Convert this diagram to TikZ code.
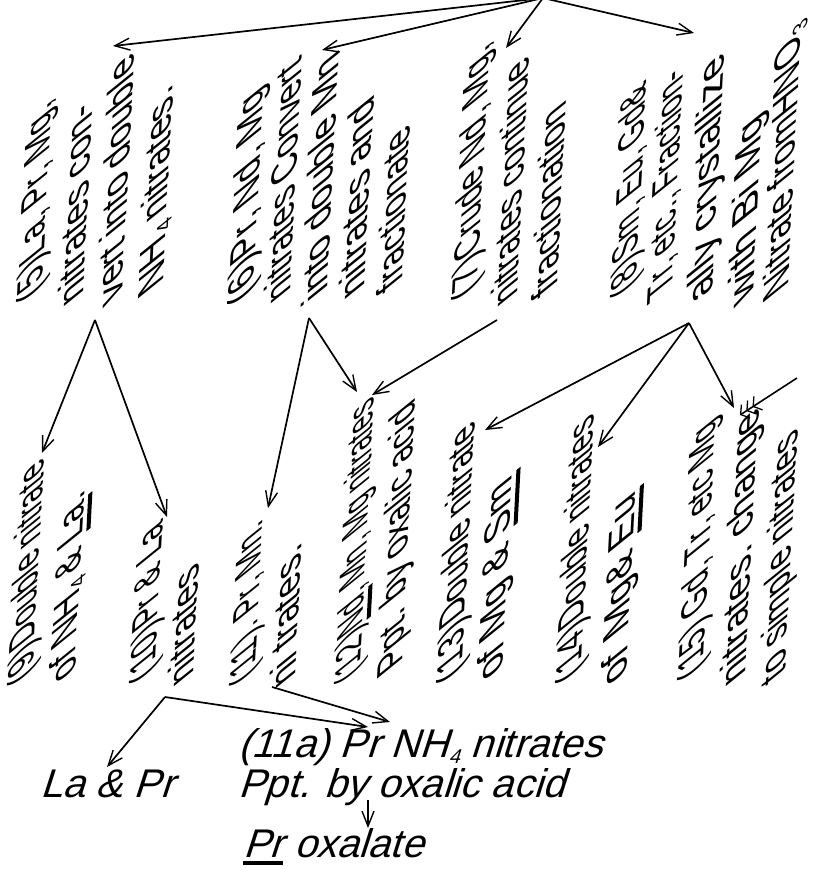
\documentclass[tikz,border=0pt]{standalone}
\usepackage{fontspec}
\usepackage{graphicx}
\setmainfont{Liberation Sans}
\newfontfamily\rotfont{Liberation Sans}
\newfontfamily\horfont{Liberation Sans}[FakeSlant=0.32]
\usetikzlibrary{arrows.meta}
\newcommand\lowsub[1]{\raisebox{-0.3ex}{\fontsize{20}{20}\selectfont #1}}
\newcommand\thickul[1]{\leavevmode\setbox0=\hbox{#1}\rlap{\rule[-8pt]{\wd0}{4pt}}\box0\relax}
\newcommand\sx[2]{\scalebox{#1}[1]{#2}}
\begin{document}
\begin{tikzpicture}[x=1pt,y=-1pt,
  ln/.style={rotate=87, xslant=-0.9, anchor=base west, inner sep=0pt,
    font=\rotfont\fontsize{35}{40}\selectfont},
  hor/.style={anchor=base west, inner sep=0pt, align=left,
    font=\horfont\fontsize{40}{40}\selectfont},
  arr/.style={line width=1.7pt, -{Straight Barb[length=15pt,width=12pt,line width=1.4pt]}},
  feather/.style={line width=1.6pt, -{Straight Barb[length=6pt,width=16pt,line width=1.3pt]Straight Barb[length=6pt,width=16pt,line width=1.3pt]Straight Barb[length=6pt,width=16pt,line width=1.3pt]}}]
\useasboundingbox (0,0) rectangle (812,870);

% block 5
\node[ln] (n5a) at (42,289)  {\sx{0.90}{(5)La, Pr, Mg,}};
\node[ln] (n5b) at (83,294)  {\sx{1.02}{nitrates con-}};
\node[ln] (n5c) at (122,294) {\sx{1.02}{vert into double}};
\node[ln] (n5d) at (163,282) {\sx{1.02}{NH\lowsub{4} nitrates.}};
% block 6
\node[ln] (n6a) at (253,292) {\sx{1.00}{(6)Pr, Nd, Mg}};
\node[ln] (n6b) at (290,291) {\sx{0.96}{nitrates Convert}};
\node[ln] (n6c) at (327,289) {\sx{1.05}{into double Mn}};
\node[ln] (n6d) at (364,287) {\sx{1.06}{nitrates and}};
\node[ln] (n6e) at (402,280) {\sx{0.97}{fractionate}};
% block 7
\node[ln] (n7a) at (477,287) {\sx{0.91}{(7)Crude Nd, Mg,}};
\node[ln] (n7b) at (517,294) {\sx{0.94}{nitrates continue}};
\node[ln] (n7c) at (557,285) {\sx{0.98}{fractionation}};
% block 8
\node[ln] (n8a) at (636,284) {\sx{0.83}{(8)Sm, Eu, Gd\&}};
\node[ln] (n8b) at (672,287) {\sx{0.85}{Tr, etc., Fraction-}};
\node[ln] (n8c) at (712,291) {\sx{1.12}{ally crystallize}};
\node[ln] (n8d) at (753,294) {\sx{1.14}{with Bi Mg}};
\node[ln] (n8e) at (788,286) {\sx{0.98}{Nitrate fromHNO\lowsub{3}}};
% block 9
\node[ln] (n9a) at (33,672)  {\sx{0.83}{(9)Double nitrate}};
\node[ln] (n9b) at (75,671)  {\sx{0.95}{of NH\lowsub{4} \& \thickul{La}.}};
% block 10
\node[ln] (n10a) at (155,670) {\sx{0.85}{(10)Pr \& La}};
\node[ln] (n10b) at (193,674) {\sx{0.99}{nitrates}};
% block 11
\node[ln] (n11a) at (255,672) {\sx{0.80}{(11). Pr, Mn.}};
\node[ln] (n11b) at (295,676) {\sx{1.01}{ni trates.}};
% block 12
\node[ln] (n12a) at (360,670) {\sx{0.75}{(12)\thickul{Nd}, Mn, Mg nitrates}};
\node[ln] (n12b) at (402,662) {\sx{0.93}{Ppt. by oxalic acid}};
% block 13
\node[ln] (n13a) at (462,670) {\sx{0.90}{(13)Double nitrate}};
\node[ln] (n13b) at (502,669) {\sx{1.07}{of Mg \& \thickul{Sm}}};
% block 14
\node[ln] (n14a) at (581,670) {\sx{0.87}{(14)Double nitrates}};
\node[ln] (n14b) at (626,674) {\sx{1.10}{of\hspace{14pt}Mg\& \thickul{Eu}}};
% block 15
\node[ln] (n15a) at (703,667) {\sx{0.86}{(15) Gd, Tr, etc Mg}};
\node[ln] (n15b) at (745,674) {\sx{1.07}{nitrates. change}};
\node[ln] (n15c) at (785,672) {\sx{0.93}{to simple nitrates}};

% bottom texts
\node[hor] (nlapr) at (40,797) {La \& Pr};
\node[hor] (nppt) at (238,797) {(11a) Pr NH\lowsub{4} nitrates\\Ppt. by oxalic acid};
\node[hor] (nox) at (243,857) {\thickul{Pr} oxalate};

% connector points
\coordinate (top) at (543,-2);
\coordinate (t5) at (113,46);
\coordinate (t6) at (322,50);
\coordinate (t7) at (506,48);
\coordinate (t8) at (694,33);
\coordinate (o5) at (95,320);
\coordinate (o6) at (309,318);
\coordinate (o7) at (497,320);
\coordinate (o8) at (689,323);
\coordinate (t9) at (42,453);
\coordinate (t10) at (167,517);
\coordinate (t11) at (268,508);
\coordinate (t12a) at (357,392);
\coordinate (t12b) at (372,395);
\coordinate (t13) at (485,430);
\coordinate (t14) at (598,447);
\coordinate (t15) at (734,408);
\coordinate (f15) at (797,378);
\coordinate (t15b) at (740,415);
\coordinate (o10) at (165,697);
\coordinate (tlapr) at (107,767);
\coordinate (t11a) at (368,727);
\coordinate (o11) at (272,687);
\coordinate (t11b) at (390,722);
\coordinate (o11a) at (368,800);
\coordinate (tox) at (368,828);

\draw[arr] (top) -- (t5);
\draw[arr] (top) -- (t6);
\draw[arr] (top) -- (t7);
\draw[arr] (top) -- (t8);
\draw[arr] (o5) -- (t9);
\draw[arr] (o5) -- (t10);
\draw[arr] (o6) -- (t11);
\draw[arr] (o6) -- (t12a);
\draw[arr] (o7) -- (t12b);
\draw[arr] (o8) -- (t13);
\draw[arr] (o8) -- (t14);
\draw[arr] (o8) -- (t15);
\draw[feather] (f15) -- (t15b);
\draw[arr] (o10) -- (tlapr);
\draw[arr] (o10) -- (t11a);
\draw[arr] (o11) -- (t11b);
\draw[arr, line width=1.3pt] (o11a) -- (tox);
\end{tikzpicture}
\end{document}
